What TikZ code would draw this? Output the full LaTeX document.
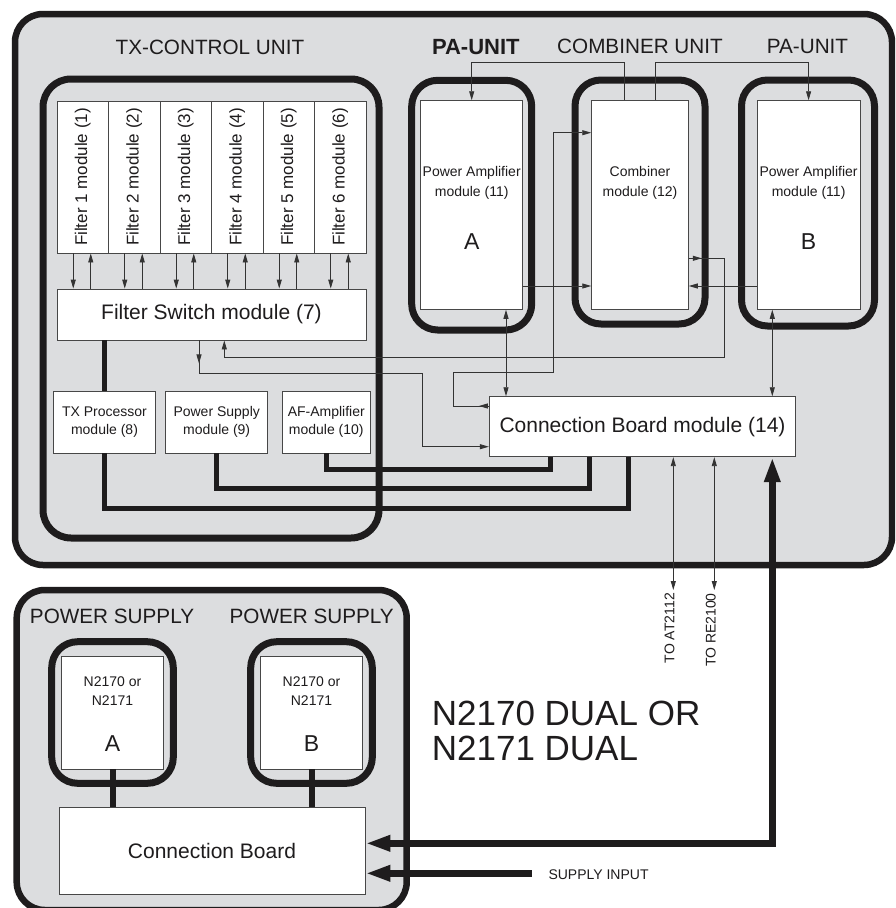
\documentclass[tikz,border=0pt]{standalone}
\usepackage{fontspec}
\setmainfont{Liberation Sans}
\usetikzlibrary{arrows.meta,calc,decorations.markings}
\definecolor{panel}{RGB}{220,221,223}
\definecolor{ink}{RGB}{30,28,29}
\begin{document}
\begin{tikzpicture}[x=1pt,y=-1pt,
  unitbox/.style={draw=ink,line width=7pt,rounded corners=26pt},
  mod/.style={draw=black!72,fill=white,line width=0.9pt,inner sep=0pt,align=center,text=ink},
  sig/.style={draw=black!80,line width=0.9pt},
  tipe/.style={-{Triangle[length=9pt,width=5pt]}},
  tipb/.style={{Triangle[length=9pt,width=5pt]}-{Triangle[length=9pt,width=5pt]}},
  midtip/.style={postaction={decorate},decoration={markings,mark=at position #1 with {\arrow{Triangle[length=9pt,width=5pt]}}}},
  bus/.style={draw=ink,line width=5pt,line join=miter},
  power/.style={draw=ink,line width=7pt,line join=miter},
  bigtips/.style={{Triangle[length=25pt,width=15pt]}-{Triangle[length=25pt,width=15pt]}},
  bigtip/.style={-{Triangle[length=25pt,width=15pt]}},
  lbl/.style={font=\fontsize{20.7}{25}\selectfont,inner sep=0pt,text=ink},
  t14/.style={font=\fontsize{14}{18.3}\selectfont,inner sep=0pt,align=center,text=ink},
  t21/.style={font=\fontsize{21}{25}\selectfont},
  bigl/.style={font=\fontsize{23}{27}\selectfont,inner sep=0pt,text=ink}]
\useasboundingbox (0,0) rectangle (895,908);
\clip (0,0) rectangle (895,908);
\fill[white] (0,0) rectangle (895,908);

% enclosures
\draw[draw=ink,line width=6.5pt,fill=panel,rounded corners=28pt] (15,14) rectangle (892,565);
\draw[draw=ink,line width=6.5pt,fill=panel,rounded corners=28pt] (16.7,590) rectangle (406.7,910);
\draw[unitbox,rounded corners=28pt] (43,79) rectangle (379,538);
\draw[unitbox] (411.7,80.3) rectangle (531.7,330);
\draw[unitbox] (575,80) rectangle (705,324);
\draw[unitbox] (741.5,80) rectangle (874.5,326);
\draw[unitbox] (51.7,641.7) rectangle (173.3,783.3);
\draw[unitbox] (250.7,641.7) rectangle (372.3,783.3);

% labels
\node[lbl] (ltx) at (210,47) {TX-CONTROL UNIT};
\node[lbl,font=\bfseries\fontsize{22}{26}\selectfont] (lpaa) at (475.8,46.7) {PA-UNIT};
\node[lbl] (lcomb) at (640,46.7) {COMBINER UNIT};
\node[lbl] (lpab) at (807.5,46.7) {PA-UNIT};
\node[lbl] (lpsa) at (112,616.7) {POWER SUPPLY};
\node[lbl] (lpsb) at (311.7,616.7) {POWER SUPPLY};

% filter modules
\foreach \i/\x in {1/82.75,2/134.25,3/185.75,4/237.25,5/288.75,6/340.25}{
  \node[mod,minimum width=51.5pt,minimum height=152pt,font=\fontsize{17}{20}\selectfont] (f\i) at (\x,177) {\rotatebox{90}{Filter \i\ module (\i)}};
}
\node[mod,t21,minimum width=309pt,minimum height=51pt] (fs) at (211.5,314.5) {Filter Switch module (7)};
\node[mod,t14,minimum width=102.4pt,minimum height=62pt] (txp) at (104.5,422) {TX Processor\\module (8)};
\node[mod,t14,minimum width=102pt,minimum height=62pt] (psm) at (216.7,422) {Power Supply\\module (9)};
\node[mod,t14,minimum width=87.3pt,minimum height=62pt] (af) at (326.3,422) {AF-Amplifier\\module (10)};
\node[mod,t21,minimum width=306.4pt,minimum height=60pt] (cb) at (642.5,426.7) {Connection Board module (14)};

% PA / combiner
\node[mod,minimum width=102pt,minimum height=208.6pt] (paA) at (471.7,205) {};
\node[mod,minimum width=96.6pt,minimum height=208.6pt] (comb) at (640,205) {};
\node[mod,minimum width=102.7pt,minimum height=208.6pt] (paB) at (808.6,205) {};
\node[t14,font=\fontsize{14}{20}\selectfont] (paAt) at (471.7,182.5) {Power Amplifier\\module (11)};
\node[bigl] (paAl) at (471.7,241.7) {A};
\node[t14,font=\fontsize{14}{20}\selectfont] (combt) at (640,182.5) {Combiner\\module (12)};
\node[t14,font=\fontsize{14}{20}\selectfont] (paBt) at (808.6,182.5) {Power Amplifier\\module (11)};
\node[bigl] (paBl) at (808.6,241.7) {B};

% power supplies
\node[mod,minimum width=101.6pt,minimum height=112.3pt] (psA) at (112.5,712.85) {};
\node[mod,minimum width=101.6pt,minimum height=112.3pt] (psB) at (311.5,712.85) {};
\node[t14,font=\fontsize{14}{19.3}\selectfont] (psAt) at (112.5,691) {N2170 or\\N2171};
\node[bigl] (psAl) at (112.5,743.3) {A};
\node[t14,font=\fontsize{14}{19.3}\selectfont] (psBt) at (311.5,691) {N2170 or\\N2171};
\node[bigl] (psBl) at (311.5,743.3) {B};
\node[mod,t21,minimum width=306pt,minimum height=86.3pt] (cb2) at (212,850.85) {Connection Board};

\node[anchor=west,align=left,inner sep=0pt,text=ink,font=\fontsize{35}{35.6}\selectfont] (dual) at (431.7,731) {N2170 DUAL OR\\N2171 DUAL};
\node[anchor=west,inner sep=0pt,text=ink,font=\fontsize{14}{17}\selectfont] (supl) at (548.3,874.3) {SUPPLY INPUT};
\node[rotate=90,anchor=east,inner sep=0pt,text=ink,font=\fontsize{14}{17}\selectfont] (lat) at (669.5,593) {TO AT2112};
\node[rotate=90,anchor=east,inner sep=0pt,text=ink,font=\fontsize{14}{17}\selectfont] (lre) at (710.7,593) {TO RE2100};
\coordinate (toat) at (673.3,590);
\coordinate (tore) at (714.3,590);
\coordinate (supin) at (531.7,873.3);

% filter <-> filter switch
\foreach \i in {1,...,6}{
  \draw[sig,tipe] ($(f\i.south)+(-9.5,0)$) -- ($(f\i.south |- fs.north)+(-9.5,0)$);
  \draw[sig,tipe] ($(f\i.south |- fs.north)+(8,0)$) -- ($(f\i.south)+(8,0)$);
}

% thin signal paths
\draw[sig,tipe,midtip=23pt] ($(fs.south)+(-12.5,0)$) |- (422.3,373.3) |- ($(cb.west)+(0,20)$);
\draw[sig,tipe,midtip=10pt] ($(cb.west)+(0,-20.7)$) -| (453.3,372.7) -| (553.3,132.7) -- ($(comb.west)+(0,-72.3)$);
\draw[sig,tipe,midtip=13pt] ($(comb.east)+(0,53.3)$) -| (724.3,357.7) -| ($(fs.south)+(12.8,0)$);
\draw[sig,tipe] ($(paA.east)+(0,81)$) -- ($(comb.west)+(0,81)$);
\draw[sig,tipe] ($(paB.west)+(0,81)$) -- ($(comb.east)+(0,81)$);
\draw[sig,tipe] ($(comb.north)+(-15.7,0)$) |- (471.7,62.7) -- (paA.north);
\draw[sig,tipe] ($(comb.north)+(15.7,0)$) |- (808.6,62.7) -- (paB.north);
\draw[sig,tipb] ($(paA.south)+(34.3,0)$) -- ($(cb.north)+(-136.5,0)$);
\draw[sig,tipb] ($(paB.south)+(-36.3,0)$) -- ($(cb.north)+(129.8,0)$);
\draw[sig,tipb] ($(cb.south)+(30.8,0)$) -- (toat);
\draw[sig,tipb] ($(cb.south)+(71.8,0)$) -- (tore);

% thick buses
\draw[bus] (fs.south -| txp.north) -- (txp.north);
\draw[bus] (txp.south) |- (628.3,508.3) -- ($(cb.south)+(-14.2,0)$);
\draw[bus] (psm.south) |- (589,488.3) -- ($(cb.south)+(-53.5,0)$);
\draw[bus] (af.south) |- (550.7,469) -- ($(cb.south)+(-91.8,0)$);
\draw[bus,line width=6pt] (psA.south) -- (psA.south |- cb2.north);
\draw[bus,line width=6pt] (psB.south) -- (psB.south |- cb2.north);

% power feeds
\draw[power,bigtips] ($(cb2.east)+(0,-7.55)$) -| ($(cb.south)+(129.8,0)$);
\draw[power,bigtip] (supin) -- ($(cb2.east)+(0,22.45)$);
\end{tikzpicture}
\end{document}
